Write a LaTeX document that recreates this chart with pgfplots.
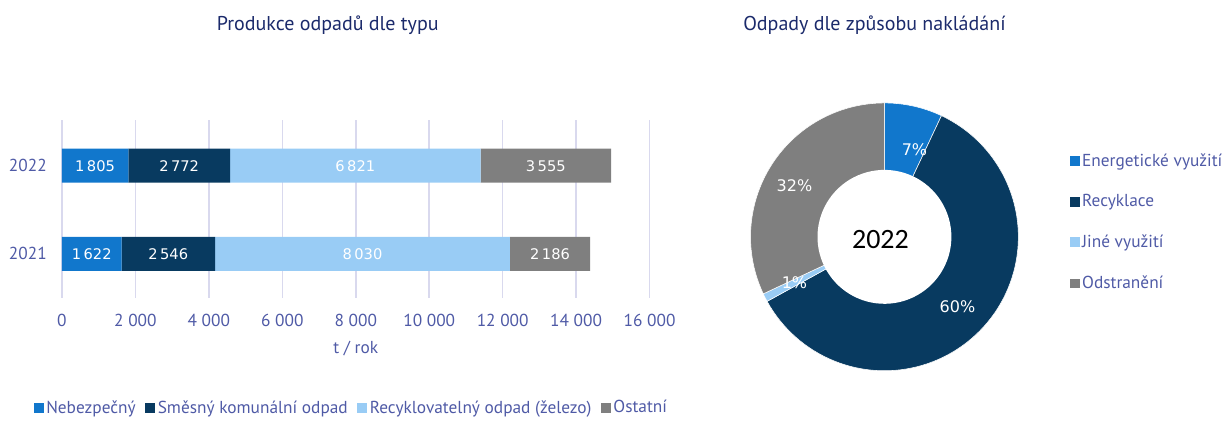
\documentclass[border=0pt]{standalone}
\usepackage{pgfplots}
\usepackage{pgfplotstable}
\pgfplotsset{compat=1.18}
\usepackage{fontspec}
\setmainfont{PT Sans}
\newfontfamily\dejavu{DejaVu Sans}
\newfontfamily\carlito{Carlito}

\definecolor{cNeb}{HTML}{1177CC}
\definecolor{cSme}{HTML}{083A60}
\definecolor{cRec}{HTML}{99CCF5}
\definecolor{cOst}{HTML}{7F7F7F}
\definecolor{tickcol}{HTML}{4F5AA6}
\definecolor{titlecol}{HTML}{1B2A6B}
\definecolor{gridcol}{HTML}{D9D9EE}

% waste by type, t / year (0 = 2021, 1 = 2022)
\pgfplotstableread{
year Neb Sme Rec Ost
0 1622 2546 8030 2186
1 1805 2772 6821 3555
}\waste

% 2022 shares by treatment, %
\def\pEn{7}
\def\pRe{60}
\def\pJi{1}
\def\pOd{32}

\pgfplotsset{
  barframe/.style={
    at={(46.5pt,89.25pt)}, anchor=south west,
    scale only axis, width=441pt, height=133.5pt,
    xmin=0, xmax=16000, ymin=-0.5, ymax=1.52,
  },
  seglabel/.style={draw=none, mark=none,
    nodes near coords,
    nodes near coords style={font=\dejavu\fontsize{11}{13}\selectfont, text=white, anchor=center},
    /pgf/number format/assume math mode=true,
    /pgf/number format/1000 sep={\,}},
}

\begin{document}
\begin{tikzpicture}
\path (0,0) rectangle (918.75pt,312.75pt);

\node[font=\fontsize{15}{18}\selectfont, text=titlecol] at (246pt,294pt) {Produkce odpadů dle typu};
\node[font=\fontsize{15}{18}\selectfont, text=titlecol] at (656.25pt,294pt) {Odpady dle způsobu nakládání};

\begin{axis}[
  barframe,
  xbar stacked, bar width=25.5pt,
  xtick={0,2000,...,16000}, scaled x ticks=false,
  ytick={0,1}, yticklabels={2021,2022},
  axis line style={draw=none},
  major tick length=0pt,
  xmajorgrids, grid style={gridcol, line width=1.1pt},
  /pgf/number format/assume math mode=true,
  tick label style={font=\fontsize{13}{15}\selectfont, text=tickcol},
  xticklabel style={anchor=center, yshift=-17.25pt, /pgf/number format/1000 sep={\ }},
  yticklabel style={anchor=east, inner sep=0pt, xshift=-11.25pt},
  xlabel={t / rok},
  xlabel style={at={(axis description cs:0.5,-0.2865)}, anchor=center, font=\fontsize{13}{15}\selectfont, text=tickcol},
  legend columns=4,
  legend style={at={(0.493,-0.618)}, anchor=center, draw=none, fill=none,
    font=\fontsize{13}{15}\selectfont, text=tickcol,
    /tikz/every even column/.append style={column sep=5pt},
    /tikz/every odd column/.append style={column sep=0pt}},
  legend image code/.code={\fill[#1, draw=none] (0pt,-3.75pt) rectangle (7.5pt,3.75pt);},
]
\addplot[fill=cNeb, draw=none] table[x=Neb, y=year] {\waste};
\addlegendentry{Nebezpečný}
\addplot[fill=cSme, draw=none] table[x=Sme, y=year] {\waste};
\addlegendentry{Směsný komunální odpad}
\addplot[fill=cRec, draw=none] table[x=Rec, y=year] {\waste};
\addlegendentry{Recyklovatelný odpad (železo)}
\addplot[fill=cOst, draw=none] table[x=Ost, y=year] {\waste};
\addlegendentry{Ostatní}
\end{axis}

% segment values, centred in each segment
\begin{axis}[barframe, hide axis]
\addplot[seglabel, point meta=\thisrow{Neb}]
  table[x expr=\thisrow{Neb}/2, y=year] {\waste};
\addplot[seglabel, point meta=\thisrow{Sme}]
  table[x expr=\thisrow{Neb}+\thisrow{Sme}/2, y=year] {\waste};
\addplot[seglabel, point meta=\thisrow{Rec}]
  table[x expr=\thisrow{Neb}+\thisrow{Sme}+\thisrow{Rec}/2, y=year] {\waste};
\addplot[seglabel, point meta=\thisrow{Ost}]
  table[x expr=\thisrow{Neb}+\thisrow{Sme}+\thisrow{Rec}+\thisrow{Ost}/2, y=year] {\waste};
\end{axis}

\pgfmathsetmacro\aA{90-3.6*\pEn}
\pgfmathsetmacro\aB{\aA-3.6*\pRe}
\pgfmathsetmacro\aC{\aB-3.6*\pJi}
\pgfmathsetmacro\aD{\aC-3.6*\pOd}

\begin{axis}[
  at={(663.75pt,135pt)}, anchor=center,
  scale only axis, width=201pt, height=201pt,
  xmin=-1, xmax=1, ymin=-1, ymax=1,
  hide axis, clip=false,
  legend cell align=left,
  legend style={at={(1.19,0.555)}, anchor=west, draw=none, fill=none, inner sep=0pt,
    font=\fontsize{13}{15}\selectfont, text=tickcol, row sep=15.8pt},
  legend image code/.code={\fill[#1, draw=none] (0pt,-3.75pt) rectangle (7.5pt,3.75pt);},
]
\addplot[fill=cNeb, draw=white, line width=0.4pt, domain=\aA:90, samples=20]
  ({cos(x)},{sin(x)}) -- (axis cs:0,0) -- cycle;
\addlegendentry{Energetické využití}
\addplot[fill=cSme, draw=white, line width=0.4pt, domain=\aB:\aA, samples=90]
  ({cos(x)},{sin(x)}) -- (axis cs:0,0) -- cycle;
\addlegendentry{Recyklace}
\addplot[fill=cRec, draw=white, line width=0.4pt, domain=\aC:\aB, samples=5]
  ({cos(x)},{sin(x)}) -- (axis cs:0,0) -- cycle;
\addlegendentry{Jiné využití}
\addplot[fill=cOst, draw=white, line width=0.4pt, domain=\aD:\aC, samples=50]
  ({cos(x)},{sin(x)}) -- (axis cs:0,0) -- cycle;
\addlegendentry{Odstranění}
\addplot[fill=white, draw=none, domain=0:360, samples=90, forget plot]
  ({0.5*cos(x)},{0.5*sin(x)}) -- cycle;

\node[font=\dejavu\fontsize{12}{14}\selectfont, text=white] at (axis cs:0.224,0.649) {7\%};
\node[font=\dejavu\fontsize{12}{14}\selectfont, text=white] at (axis cs:0.545,-0.522) {60\%};
\node[font=\dejavu\fontsize{12}{14}\selectfont, text=white] at (axis cs:-0.672,-0.343) {1\%};
\node[font=\dejavu\fontsize{12}{14}\selectfont, text=white] at (axis cs:-0.672,0.381) {32\%};
\node[font=\carlito\fontsize{21}{25}\selectfont, text=black] at (axis cs:-0.03,-0.02) {2022};
\end{axis}
\end{tikzpicture}
\end{document}
